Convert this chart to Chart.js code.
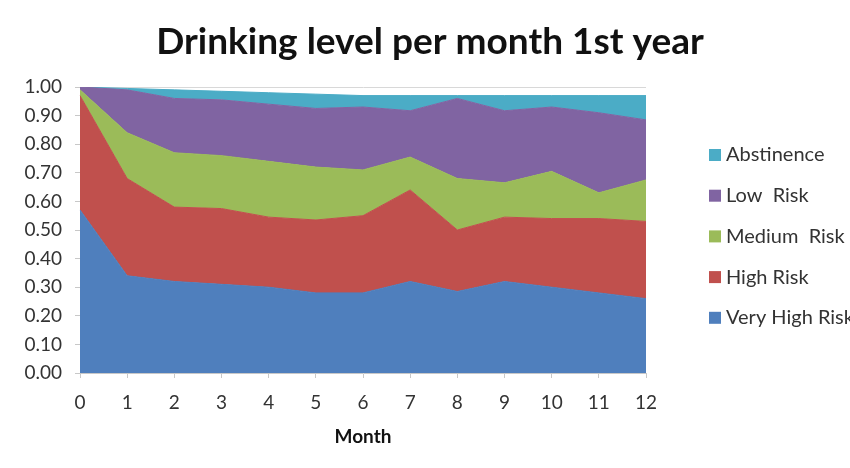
<!DOCTYPE html>
<html>
<head>
<meta charset="utf-8">
<script src="https://cdn.jsdelivr.net/npm/chart.js@4"></script>
<style>
  html, body { margin: 0; padding: 0; background: #fff; }
  #wrap { width: 850px; height: 468px; }
</style>
</head>
<body>
<div id="wrap"><canvas id="myChart" width="850" height="468"></canvas></div>
<script>
// month of the first year
var months = ["0", "1", "2", "3", "4", "5", "6", "7", "8", "9", "10", "11", "12"];

// share of people at each drinking level (stacked, bottom to top)
var veryHighRisk = [0.57, 0.34, 0.32, 0.31, 0.30, 0.28, 0.28, 0.32, 0.285, 0.32, 0.30, 0.28, 0.26];
var highRisk     = [0.40, 0.34, 0.26, 0.265, 0.245, 0.255, 0.27, 0.32, 0.215, 0.225, 0.24, 0.26, 0.27];
var mediumRisk   = [0.02, 0.16, 0.19, 0.185, 0.195, 0.185, 0.16, 0.115, 0.18, 0.12, 0.165, 0.09, 0.145];
var lowRisk      = [0.01, 0.15, 0.19, 0.195, 0.20, 0.205, 0.22, 0.162, 0.28, 0.252, 0.225, 0.28, 0.21];
var abstinence   = [0.00, 0.005, 0.03, 0.03, 0.04, 0.05, 0.04, 0.053, 0.01, 0.053, 0.04, 0.06, 0.085];

var yTicks = [0, 0.1, 0.2, 0.3, 0.4, 0.5, 0.6, 0.7, 0.8, 0.9, 1.0];

var chartTitle = "Drinking level per month 1st year";

var FONT = "Lato, 'Open Sans', sans-serif";

function area(label, data, color, fill) {
  return {
    label: label,
    data: data,
    backgroundColor: color,
    borderColor: color,
    borderWidth: 1,
    pointRadius: 0,
    pointHoverRadius: 0,
    tension: 0,
    fill: fill,
  };
}

// title across the whole canvas and the legend on the right (top entry = top band)
var sideLegend = {
  id: "sideLegend",
  afterDraw: function (chart) {
    var ctx = chart.ctx;
    var sets = chart.data.datasets.slice().reverse();
    ctx.save();
    ctx.font = "bold 37px " + FONT;
    ctx.fillStyle = "#111";
    ctx.textAlign = "center";
    ctx.textBaseline = "middle";
    ctx.fillText(chartTitle, 430, 42);

    ctx.font = "20px " + FONT;
    ctx.textAlign = "left";
    sets.forEach(function (ds, i) {
      var y = 155 + i * 40.7;
      ctx.fillStyle = ds.backgroundColor;
      ctx.fillRect(709, y - 6, 12, 12);
      ctx.fillStyle = "#333";
      ctx.fillText(ds.label, 726, y);
    });
    ctx.restore();
  },
};

var ctx = document.getElementById("myChart").getContext("2d");
var myChart = new Chart(ctx, {
  type: "line",
  data: {
    labels: months,
    datasets: [
      area("Very High Risk", veryHighRisk, "#4f7fbd", "origin"),
      area("High Risk", highRisk, "#c0504d", "-1"),
      area("Medium  Risk", mediumRisk, "#9bbb59", "-1"),
      area("Low  Risk", lowRisk, "#8064a2", "-1"),
      area("Abstinence", abstinence, "#4bacc6", "-1"),
    ],
  },
  plugins: [sideLegend],
  options: {
    responsive: false,
    animation: false,
    layout: {
      padding: { left: 0, right: 204, top: 87, bottom: 16 },
    },
    plugins: {
      legend: { display: false },
      tooltip: { enabled: false },
      title: { display: false },
    },
    scales: {
      x: {
        stacked: true,
        offset: false,
        afterFit: function (s) { s.height = 79; },
        grid: {
          display: true,
          drawOnChartArea: false,
          tickLength: 5,
          tickColor: "#c8c8c8",
        },
        border: { color: "#c8c8c8" },
        ticks: {
          color: "#333",
          padding: 13,
          font: { family: FONT, size: 19 },
          maxRotation: 0,
        },
        title: {
          display: true,
          text: "Month",
          color: "#111",
          font: { family: FONT, size: 19, weight: "bold" },
        },
      },
      y: {
        stacked: true,
        min: 0,
        max: 1,
        afterFit: function (s) { s.width = 80; },
        afterBuildTicks: function (s) {
          s.ticks = yTicks.map(function (v) { return { value: v }; });
        },
        grid: {
          color: function (c) { return c.tick && c.tick.value === 1 ? "#d8d8d8" : "rgba(0,0,0,0)"; },
          tickLength: 5,
          tickColor: "#c8c8c8",
        },
        border: { color: "#c8c8c8" },
        ticks: {
          color: "#333",
          padding: 13,
          font: { family: FONT, size: 19 },
          callback: function (v) { return Number(v).toFixed(2); },
        },
      },
    },
  },
});
</script>
</body>
</html>
